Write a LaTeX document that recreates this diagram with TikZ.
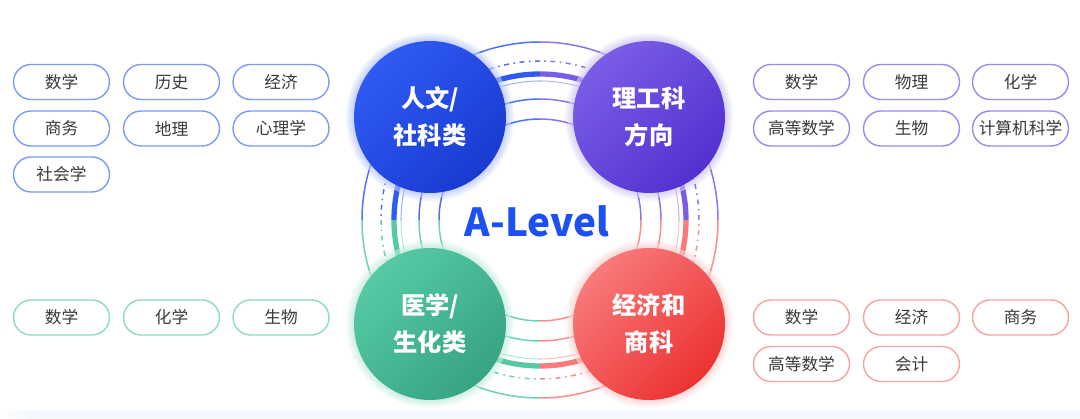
\documentclass[tikz,border=0pt]{standalone}
\usepackage{fontspec}
\setmainfont{Noto Sans CJK SC}
\definecolor{BluClr}{HTML}{2E5BF4}
\definecolor{BluDrk}{HTML}{1A3AD0}
\definecolor{PrpClr}{HTML}{7A5DE6}
\definecolor{PrpDrk}{HTML}{5231D0}
\definecolor{GrnClr}{HTML}{55CAA5}
\definecolor{GrnDrk}{HTML}{37A383}
\definecolor{RedClr}{HTML}{F97A7A}
\definecolor{RedDrk}{HTML}{EC3232}
\definecolor{BluLine}{HTML}{7C9CF4}
\definecolor{PrpLine}{HTML}{9C8AF0}
\definecolor{GrnLine}{HTML}{8EDAC2}
\definecolor{RedLine}{HTML}{F5A3A3}
\definecolor{TxtClr}{HTML}{3A3A3A}
\definecolor{LvlClr}{HTML}{1D50F2}
\definecolor{BandClr}{HTML}{F4F8FD}

\begin{document}
\begin{tikzpicture}[x=0.02cm,y=0.02cm,
  pill/.style={draw,line width=0.8pt,rounded corners=0.35cm,minimum width=1.92cm,
    minimum height=0.70cm,inner sep=0pt,fill=white,text=TxtClr,
    font=\fontsize{9.5}{11}\selectfont},
  ball/.style={circle,minimum size=3.04cm,inner sep=0pt,align=center,text=white,
    font=\fontsize{13.8}{21}\selectfont\bfseries},
  ringthin/.style={line width=0.85pt,opacity=0.85},
  ringdash/.style={line width=0.85pt,opacity=0.85,dash pattern=on 2.8pt off 2.6pt on 0.9pt off 2.6pt},
  ringthick/.style={line width=3pt},
  ringfaint/.style={line width=0.6pt,opacity=0.45}]

\fill[white] (0,0) rectangle (1080,419);
\useasboundingbox (0,0) rectangle (1080,419);

% pale strip at the bottom
\fill[BandClr] (30,0) rectangle (1080,8);
\fill[left color=white,right color=BandClr] (0,0) rectangle (30,8);

\coordinate (Ctr) at (540,199);
\coordinate (HumC) at (430,302);
\coordinate (SciC) at (649,302);
\coordinate (MedC) at (430,95);
\coordinate (EcoC) at (649,95);

% rings, one colour per quarter
\foreach \a/\c in {0/PrpClr,90/BluClr,180/GrnClr,270/RedClr}{
  \draw[ringthin,\c] ([shift={(\a:178)}]Ctr) arc[start angle=\a,delta angle=90,radius=178];
  \draw[ringdash,\c] ([shift={(\a:159)}]Ctr) arc[start angle=\a,delta angle=90,radius=159];
  \draw[ringthick,\c] ([shift={(\a:146)}]Ctr) arc[start angle=\a,delta angle=90,radius=146];
  \draw[ringfaint,\c] ([shift={(\a:139)}]Ctr) arc[start angle=\a,delta angle=90,radius=139];
  \draw[ringthin,\c] ([shift={(\a:121)}]Ctr) arc[start angle=\a,delta angle=90,radius=121];
  \draw[ringthin,\c] ([shift={(\a:101)}]Ctr) arc[start angle=\a,delta angle=90,radius=101];
}

% soft glow round the four discs
\foreach \n/\c in {HumC/BluClr,SciC/PrpClr,MedC/GrnClr,EcoC/RedClr}{
  \fill[white,opacity=0.5] (\n) circle[radius=81];
  \foreach \k in {1,...,6}
    \fill[\c,opacity=0.05] (\n) circle[radius=75+1.5*\k];
}

\node[ball,top color=BluClr,bottom color=BluDrk,shading angle=45] (Hum) at (HumC) {人文/\\社科类};
\node[ball,top color=PrpClr,bottom color=PrpDrk,shading angle=45] (Sci) at (SciC) {理工科\\方向};
\node[ball,top color=GrnClr,bottom color=GrnDrk,shading angle=45] (Med) at (MedC) {医学/\\生化类};
\node[ball,top color=RedClr,bottom color=RedDrk,shading angle=45] (Eco) at (EcoC) {经济和\\商科};

\node[anchor=base,text=LvlClr,font=\fontsize{22}{26}\selectfont\bfseries] (Lvl) at (537,182) {A-Level};

% humanities subjects
\node[pill,draw=BluLine] (hum1) at (61.5,337) {数学};
\node[pill,draw=BluLine] (hum2) at (171.5,337) {历史};
\node[pill,draw=BluLine] (hum3) at (281,337) {经济};
\node[pill,draw=BluLine] (hum4) at (61.5,290.5) {商务};
\node[pill,draw=BluLine] (hum5) at (171.5,290.5) {地理};
\node[pill,draw=BluLine] (hum6) at (281,290.5) {心理学};
\node[pill,draw=BluLine] (hum7) at (61.5,244.5) {社会学};

% science subjects
\node[pill,draw=PrpLine] (sci1) at (801.5,337) {数学};
\node[pill,draw=PrpLine] (sci2) at (911.5,337) {物理};
\node[pill,draw=PrpLine] (sci3) at (1020.5,337) {化学};
\node[pill,draw=PrpLine] (sci4) at (801.5,290.5) {高等数学};
\node[pill,draw=PrpLine] (sci5) at (911.5,290.5) {生物};
\node[pill,draw=PrpLine] (sci6) at (1020.5,290.5) {计算机科学};

% medicine subjects
\node[pill,draw=GrnLine] (med1) at (61.5,101.5) {数学};
\node[pill,draw=GrnLine] (med2) at (171.5,101.5) {化学};
\node[pill,draw=GrnLine] (med3) at (281,101.5) {生物};

% economics subjects
\node[pill,draw=RedLine] (eco1) at (801.5,101.5) {数学};
\node[pill,draw=RedLine] (eco2) at (911.5,101.5) {经济};
\node[pill,draw=RedLine] (eco3) at (1020.5,101.5) {商务};
\node[pill,draw=RedLine] (eco4) at (801.5,55) {高等数学};
\node[pill,draw=RedLine] (eco5) at (911.5,55) {会计};

\end{tikzpicture}
\end{document}
